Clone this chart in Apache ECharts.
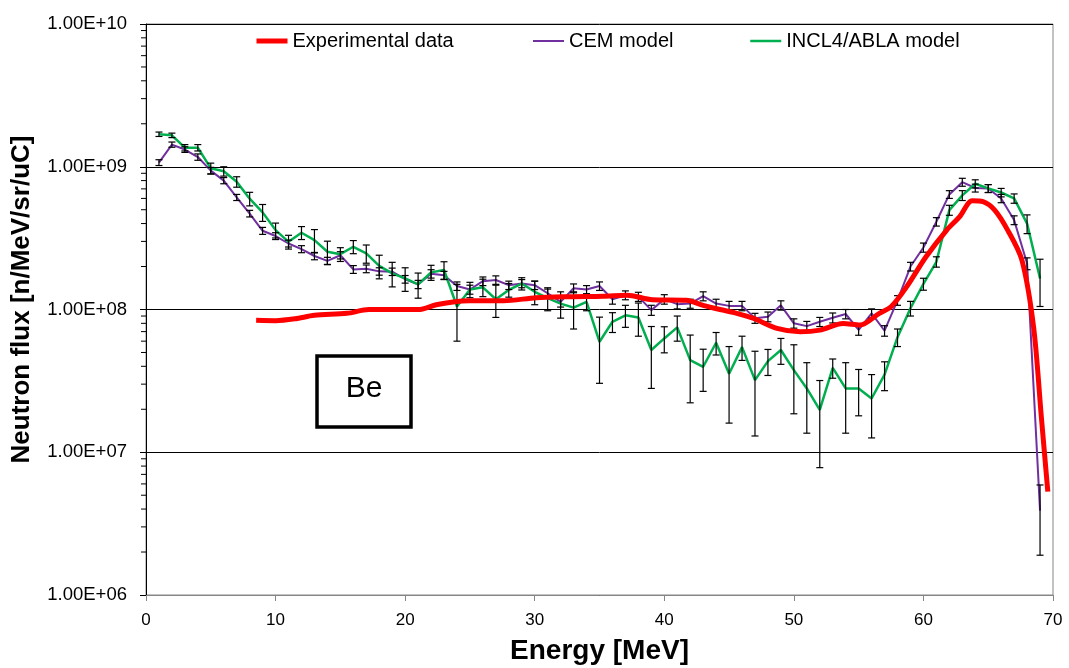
<!DOCTYPE html>
<html><head><meta charset="utf-8">
<script src="https://cdn.jsdelivr.net/npm/echarts@6/dist/echarts.min.js"></script>
<style>html,body{margin:0;padding:0;background:#fff}#c{width:1069px;height:668px}</style>
</head><body><div id="c"></div>
<script>
// ---- data ----
const energy = [1,2,3,4,5,6,7,8,9,10,11,12,13,14,15,16,17,18,19,20,21,22,23,24,25,26,27,28,29,30,31,32,33,34,35,36,37,38,39,40,41,42,43,44,45,46,47,48,49,50,51,52,53,54,55,56,57,58,59,60,61,62,63,64,65,66,67,68,69];
const cemFlux = [1.07e9,1.43e9,1.32e9,1.17e9,9.4e8,8.0e8,6.1e8,4.7e8,3.56e8,3.27e8,2.9e8,2.65e8,2.37e8,2.19e8,2.4e8,1.91e8,1.93e8,1.85e8,1.84e8,1.63e8,1.5e8,1.78e8,1.74e8,1.46e8,1.38e8,1.58e8,1.61e8,1.48e8,1.52e8,1.48e8,1.30e8,1.13e8,1.41e8,1.38e8,1.46e8,1.18e8,1.26e8,1.23e8,9.9e7,1.18e8,1.09e8,1.10e8,1.24e8,1.10e8,1.06e8,1.06e8,8.7e7,8.9e7,1.07e8,8.0e7,7.65e7,8.2e7,8.75e7,9.3e7,7.2e7,9.4e7,7.1e7,1.16e8,2.0e8,2.72e8,4.12e8,6.4e8,7.8e8,7.1e8,7.05e8,6.0e8,4.23e8,2.1e8,3.9e6];
const cemErr = [5e7,6e7,6e7,6e7,5e7,4e7,3e7,2.5e7,2e7,1.8e7,1.6e7,1.5e7,1.4e7,1.3e7,1.4e7,1.2e7,1.2e7,1.1e7,1.1e7,1.0e7,1.0e7,1.2e7,1.1e7,1.0e7,1.0e7,1.1e7,1.1e7,1.0e7,1.0e7,1.0e7,9e6,9e6,1.0e7,9e6,1.0e7,9e6,9e6,9e6,8e6,9e6,8e6,8e6,9e6,8e6,8e6,8e6,7e6,7e6,8e6,6e6,6e6,6e6,7e6,7e6,6e6,7e6,6e6,9e6,1.4e7,2e7,2.8e7,4e7,5e7,4.5e7,4.5e7,4e7,3e7,2e7,2e6];
const inclFlux = [1.69e9,1.66e9,1.36e9,1.36e9,9.75e8,9.3e8,7.85e8,5.97e8,4.79e8,3.6e8,2.98e8,3.45e8,3.06e8,2.54e8,2.44e8,2.75e8,2.47e8,2.02e8,1.79e8,1.65e8,1.50e8,1.82e8,1.89e8,1.05e8,1.38e8,1.43e8,1.18e8,1.37e8,1.52e8,1.33e8,1.20e8,1.10e8,1.03e8,1.13e8,5.94e7,8.2e7,9.1e7,8.8e7,5.2e7,6.27e7,7.5e7,4.42e7,3.97e7,5.85e7,3.55e7,5.45e7,3.2e7,4.35e7,5.2e7,3.76e7,2.8e7,1.98e7,3.9e7,2.8e7,2.8e7,2.38e7,3.5e7,6.4e7,1.02e8,1.51e8,2.16e8,4.97e8,6.3e8,7.6e8,7.05e8,6.6e8,6.0e8,4.0e8,1.65e8];
const inclErr = [6e7,6e7,7e7,7e7,8.5e7,7e7,6.6e7,6.5e7,6.5e7,4.3e7,3.3e7,3.6e7,5.7e7,4.7e7,2.7e7,2.9e7,3.6e7,3.8e7,3.5e7,3.1e7,3.0e7,2.2e7,2.7e7,4.5e7,1.7e7,2e7,3e7,1.5e7,1.5e7,2.5e7,2.2e7,2.3e7,3e7,1.5e7,2.9e7,1.3e7,1.6e7,2.3e7,2.4e7,1.3e7,1.5e7,2.2e7,1.3e7,1.05e7,1.95e7,1.05e7,1.9e7,0.9e7,1.07e7,1.9e7,1.44e7,1.2e7,0.6e7,1.44e7,1.0e7,1.12e7,0.8e7,0.9e7,1.2e7,1.45e7,1.8e7,4e7,5e7,5e7,4.5e7,4.5e7,4.5e7,6e7,6e7];
const expEnergy = [8.5,10,11.5,13,15.5,17.2,21,22.4,23.7,25,27.6,30.1,32.7,35.3,37.1,39.1,41.7,43.0,44.3,45.6,46.9,48.7,50.5,52.0,53.8,55.1,56.6,57.5,58.7,60.2,61.8,62.8,63.76,64.6,65.5,66.5,67.6,68.5,69.1,69.6];
const expFlux = [8.4e7,8.35e7,8.6e7,9.1e7,9.4e7,1.0e8,1.0e8,1.08e8,1.13e8,1.15e8,1.15e8,1.21e8,1.23e8,1.24e8,1.26e8,1.17e8,1.16e8,1.07e8,1.0e8,9.4e7,8.66e7,7.37e7,6.98e7,7.17e7,7.98e7,7.78e7,9.4e7,1.045e8,1.44e8,2.34e8,3.6e8,4.47e8,5.78e8,5.69e8,4.97e8,3.6e8,2.22e8,7.57e7,1.77e7,5.3e6];
const yTickLabels = ['1.00E+06','1.00E+07','1.00E+08','1.00E+09','1.00E+10'];
const seriesNames = ['Experimental data','CEM model','INCL4/ABLA model'];

// ---- build ----
const FONT = 'Liberation Sans, Arial, sans-serif';
const chart = echarts.init(document.getElementById('c'), null, {renderer:'canvas'});

function errSeries(id, flux, err) {
  return {
    type:'custom', name:id, silent:true, z:4, clip:false,
    data: energy.map((e,i)=>[e, flux[i]-err[i], flux[i]+err[i]]),
    encode:{x:0, y:[1,2]},
    renderItem(params, api){
      const x = api.value(0);
      const p1 = api.coord([x, api.value(2)]), p2 = api.coord([x, api.value(1)]);
      const w = 3.5, st = {stroke:'#000', lineWidth:1.2};
      return {type:'group', children:[
        {type:'line', shape:{x1:p1[0],y1:p1[1],x2:p2[0],y2:p2[1]}, style:st},
        {type:'line', shape:{x1:p1[0]-w,y1:p1[1],x2:p1[0]+w,y2:p1[1]}, style:st},
        {type:'line', shape:{x1:p2[0]-w,y1:p2[1],x2:p2[0]+w,y2:p2[1]}, style:st}
      ]};
    }
  };
}

// minor tick positions of the log axis (2..9 in each decade)
const minorTickVals = [];
for (let k = 6; k < 10; k++) for (let m = 2; m <= 9; m++) minorTickVals.push([0, m * Math.pow(10, k)]);

const legendText = {fontFamily:FONT, fontSize:20, color:'#000'};
function legendOf(name, color, width, left) {
  return {data:[{name, itemStyle:{opacity:0}, lineStyle:{width, color}}], left, top:31, padding:0,
          itemWidth:31, itemHeight:14, textStyle:legendText};
}
const option = {
  backgroundColor:'#fff',
  animation:false,
  grid:{left:146, right:16, top:24, bottom:73, show:true, borderColor:'#868686', borderWidth:1,
        outerBoundsMode:'none', containLabel:false},
  legend: [
    legendOf(seriesNames[0], '#FF0000', 5, 254),
    legendOf(seriesNames[1], '#7030A0', 2, 532),
    legendOf(seriesNames[2], '#00B050', 2.5, 749)
  ],
  xAxis:{
    type:'value', min:0, max:70, interval:10,
    name:'Energy [MeV]', nameLocation:'middle', nameGap:42,
    nameTextStyle:{fontFamily:FONT, fontSize:28, fontWeight:'bold', color:'#000'},
    axisLine:{lineStyle:{color:'#868686', width:1}},
    axisTick:{show:true, inside:false, length:6, lineStyle:{color:'#868686'}},
    axisLabel:{fontFamily:FONT, fontSize:17, color:'#000', margin:17},
    splitLine:{show:false}
  },
  yAxis:{
    type:'log', logBase:10, min:1e6, max:1e10, interval:1,
    name:'Neutron flux [n/MeV/sr/uC]', nameLocation:'middle', nameGap:111,
    nameTextStyle:{fontFamily:FONT, fontSize:26, fontWeight:'bold', color:'#000', padding:[0,0,0,20]},
    axisLine:{show:true, lineStyle:{color:'#000', width:1}},
    axisTick:{show:true, inside:false, length:6, lineStyle:{color:'#000'}},
    axisLabel:{fontFamily:FONT, fontSize:18.5, color:'#000', margin:19,
      formatter:(v)=>yTickLabels[Math.round(Math.log10(v)) - 6]},
    splitLine:{show:true, lineStyle:{color:'#000', width:1}}
  },
  series:[
    {name:seriesNames[1], type:'line', data:energy.map((e,i)=>[e,cemFlux[i]]),
     showSymbol:false, symbol:'none', z:2, lineStyle:{color:'#7030A0', width:2}, itemStyle:{color:'#7030A0'}},
    {name:seriesNames[2], type:'line', data:energy.map((e,i)=>[e,inclFlux[i]]),
     showSymbol:false, symbol:'none', z:2, lineStyle:{color:'#00B050', width:2.5}, itemStyle:{color:'#00B050'}},
    errSeries('cemErr', cemFlux, cemErr),
    errSeries('inclErr', inclFlux, inclErr),
    {name:seriesNames[0], type:'line', data:expEnergy.map((e,i)=>[e,expFlux[i]]),
     showSymbol:false, symbol:'none', smooth:0.3, z:5, lineStyle:{color:'#FF0000', width:5}, itemStyle:{color:'#FF0000'}},
    {type:'custom', name:'minorTicks', silent:true, clip:false, z:3, data:minorTickVals, encode:{x:0,y:1},
     renderItem(params, api){
       const p = api.coord([api.value(0), api.value(1)]);
       return {type:'line', shape:{x1:p[0]-5, y1:p[1], x2:p[0], y2:p[1]}, style:{stroke:'#000', lineWidth:1}};
     }}
  ],
  graphic:[
    {type:'rect', shape:{x:317, y:356, width:94, height:71}, style:{fill:'#fff', stroke:'#000', lineWidth:3.5}, z:10},
    {type:'text', x:364, y:389, style:{text:'Be', fontFamily:FONT, fontSize:30, fill:'#000', align:'center', verticalAlign:'middle'}, z:11}
  ]
};
chart.setOption(option);
</script></body></html>
